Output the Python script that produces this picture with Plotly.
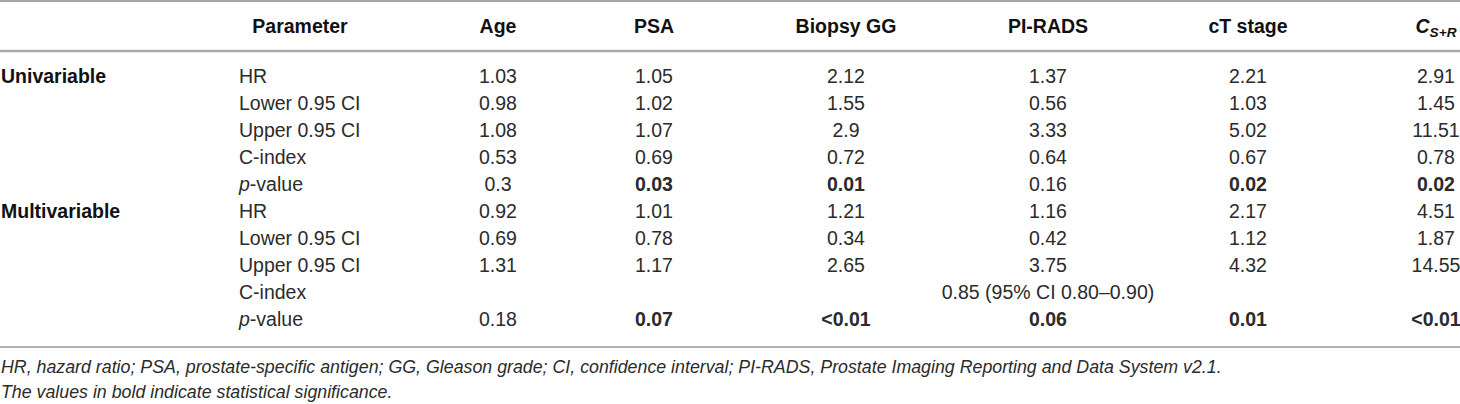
import plotly.graph_objects as go

# table content
groups = ["Univariable", "Multivariable"]
parameters = ["HR", "Lower 0.95 CI", "Upper 0.95 CI", "C-index", "<i>p</i>-value"]
columns = ["Age", "PSA", "Biopsy GG", "PI-RADS", "cT stage", "<i>C</i><sub><i>S+R</i></sub>"]

uni_hr = ["1.03", "1.05", "2.12", "1.37", "2.21", "2.91"]
uni_lower = ["0.98", "1.02", "1.55", "0.56", "1.03", "1.45"]
uni_upper = ["1.08", "1.07", "2.9", "3.33", "5.02", "11.51"]
uni_cindex = ["0.53", "0.69", "0.72", "0.64", "0.67", "0.78"]
uni_p = ["0.3", "0.03", "0.01", "0.16", "0.02", "0.02"]
uni_p_bold = [False, True, True, False, True, True]

multi_hr = ["0.92", "1.01", "1.21", "1.16", "2.17", "4.51"]
multi_lower = ["0.69", "0.78", "0.34", "0.42", "1.12", "1.87"]
multi_upper = ["1.31", "1.17", "2.65", "3.75", "4.32", "14.55"]
multi_cindex = ["", "", "", "0.85 (95% CI 0.80–0.90)", "", ""]  # one merged cell
multi_p = ["0.18", "0.07", "&lt;0.01", "0.06", "0.01", "&lt;0.01"]
multi_p_bold = [False, True, True, True, True, True]

footnotes = [
    "HR, hazard ratio; PSA, prostate-specific antigen; GG, Gleason grade; CI, confidence interval; "
    "PI-RADS, Prostate Imaging Reporting and Data System v2.1.",
    "The values in bold indicate statistical significance.",
]

# layout (pixel-like coordinates, y grows downward)
W, H = 1460, 404
col_x = [498, 654, 846, 1048, 1248, 1436]
group_x = 1
param_x = 239
param_head_x = 300
head_y = 28
row0_y = 78
row_step = 27
foot_y = [369, 394]

FONT = "Liberation Sans"
TXT = "#2b2b2b"
SIZE = 19.5

fig = go.Figure()


def add_text(xs, ys, texts, pos="middle center", size=SIZE, color=TXT):
    # skip empty cells
    keep = [k for k, t in enumerate(texts) if t]
    fig.add_trace(go.Scatter(
        x=[xs[k] for k in keep], y=[ys[k] for k in keep],
        text=[texts[k] for k in keep], mode="text", textposition=pos,
        textfont=dict(family=FONT, size=size, color=color),
        hoverinfo="skip", showlegend=False,
    ))


def bold(vals, flags=None):
    if flags is None:
        flags = [True] * len(vals)
    return [f"<b>{v}</b>" if f else v for v, f in zip(vals, flags)]


# header
add_text([param_head_x] + col_x, [head_y] * 7, bold(["Parameter"] + columns), color="#111")

# body rows
rows = [
    uni_hr, uni_lower, uni_upper, uni_cindex, bold(uni_p, uni_p_bold),
    multi_hr, multi_lower, multi_upper, multi_cindex, bold(multi_p, multi_p_bold),
]
for i, vals in enumerate(rows):
    y = row0_y + i * row_step
    add_text(col_x, [y] * len(col_x), vals)

# group and parameter labels
add_text([group_x, group_x], [row0_y, row0_y + 5 * row_step], bold(groups),
         pos="middle right", color="#111")
param_labels = parameters + parameters
add_text([param_x] * len(param_labels),
         [row0_y + i * row_step for i in range(len(param_labels))],
         param_labels, pos="middle right")

# footnotes
add_text([group_x] * 2, foot_y, [f"<i>{t}</i>" for t in footnotes],
         pos="middle right", size=17.8)

# rules
for y, w, c in [(1, 2, "#a6a6a6"), (51, 2.5, "#aaaaaa"), (347, 1.5, "#9a9a9a")]:
    fig.add_shape(type="line", x0=0, x1=W, y0=y, y1=y, xref="x", yref="y",
                  line=dict(color=c, width=w))

fig.update_xaxes(range=[0, W], visible=False, fixedrange=True)
fig.update_yaxes(range=[H, 0], visible=False, fixedrange=True)
fig.update_layout(
    width=W, height=H,
    margin=dict(l=0, r=0, t=0, b=0),
    plot_bgcolor="white", paper_bgcolor="white",
)

fig.write_html(
    "out.html",
    config={"displayModeBar": False},
    post_script="document.body.style.margin='0';document.body.style.overflow='hidden';",
)
